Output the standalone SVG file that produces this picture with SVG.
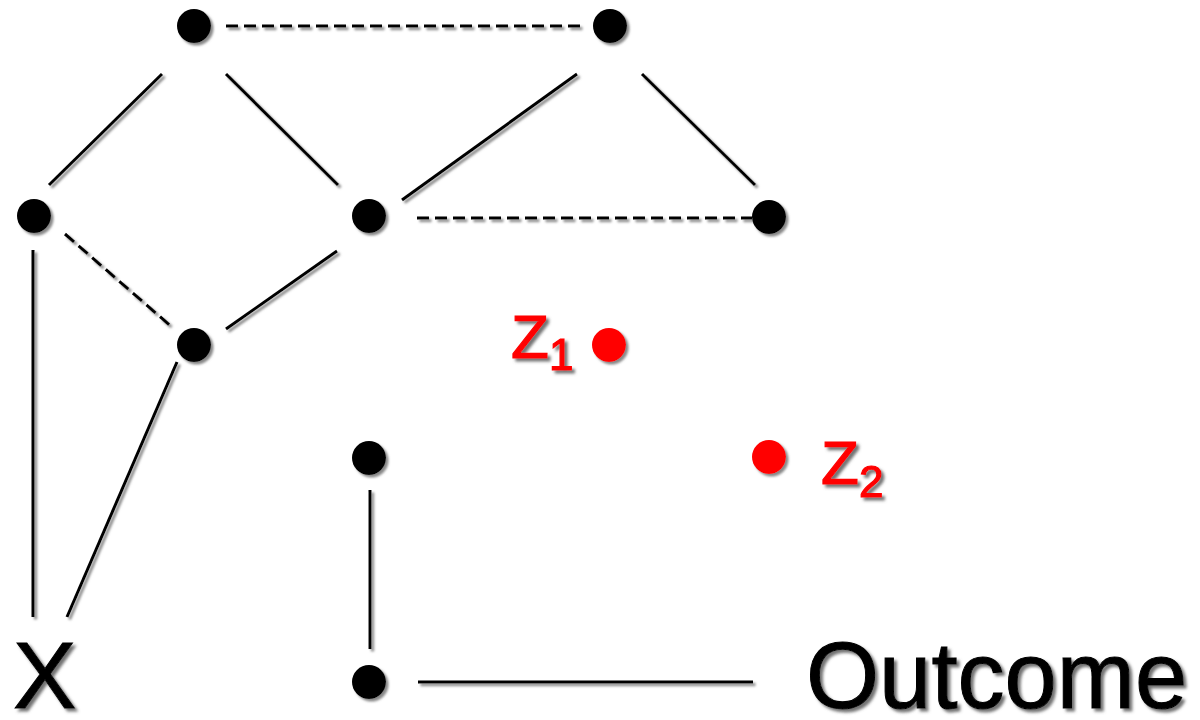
<svg xmlns="http://www.w3.org/2000/svg" width="1200" height="720" viewBox="0 0 1200 720">
  <defs>
    <!-- user-space region so straight horizontal/vertical lines keep their shadow -->
    <filter id="shadow" filterUnits="userSpaceOnUse" x="0" y="0" width="1200" height="720">
      <feDropShadow dx="2.5" dy="2.5" stdDeviation="1" flood-color="#7a7a7a" flood-opacity="0.9"/>
    </filter>
    <filter id="textShadow" filterUnits="userSpaceOnUse" x="0" y="0" width="1200" height="720">
      <feDropShadow dx="3" dy="3" stdDeviation="1.4" flood-color="#5a5a5a" flood-opacity="0.85"/>
    </filter>
  </defs>
  <style>
    .edge { stroke: #000; stroke-width: 3; fill: none; }
    .dash { stroke-dasharray: 12 6; }
    .node { fill: #000; }
    .red { fill: #ff0000; }
    .label { font-family: "Liberation Sans", Arial, sans-serif; fill: #000; stroke: #000; stroke-width: 1; }
    .zlabel { font-family: "Liberation Sans", Arial, sans-serif; fill: #ff0000; stroke: #ff0000; stroke-width: 1.2; }
  </style>
  <rect width="1200" height="720" fill="#fff"/>

  <g filter="url(#shadow)">
    <!-- connectors -->
    <g id="connectors">
      <line class="edge dash" x1="226" y1="26" x2="580" y2="26"/>
      <line class="edge" x1="162" y1="74" x2="49" y2="185"/>
      <line class="edge" x1="226" y1="74" x2="338" y2="185"/>
      <line class="edge" x1="577" y1="74" x2="402" y2="200"/>
      <line class="edge" x1="642" y1="74" x2="755" y2="185"/>
      <line class="edge dash" x1="417" y1="218" x2="752" y2="218"/>
      <line class="edge dash" x1="65" y1="234" x2="173" y2="328"/>
      <line class="edge" x1="337" y1="251" x2="226" y2="329"/>
      <line class="edge" x1="33" y1="250" x2="33" y2="617"/>
      <line class="edge" x1="177" y1="362" x2="67" y2="617"/>
      <line class="edge" x1="370" y1="490" x2="370" y2="649"/>
      <line class="edge" x1="418" y1="682" x2="753" y2="682"/>
    </g>

    <!-- nodes -->
    <g id="n-top-left"><circle class="node" cx="194" cy="26" r="17"/></g>
    <g id="n-top-right"><circle class="node" cx="610" cy="26" r="17"/></g>
    <g id="n-mid-left"><circle class="node" cx="34" cy="216" r="17"/></g>
    <g id="n-mid-center"><circle class="node" cx="369" cy="216" r="17"/></g>
    <g id="n-mid-right"><circle class="node" cx="769" cy="217" r="17"/></g>
    <g id="n-lower-left"><circle class="node" cx="194" cy="345" r="17"/></g>
    <g id="n-lower-center"><circle class="node" cx="369" cy="458" r="17"/></g>
    <g id="n-bottom"><circle class="node" cx="369" cy="682" r="17"/></g>
    <g id="z1-dot"><circle class="red" cx="609" cy="345" r="17"/></g>
    <g id="z2-dot"><circle class="red" cx="769" cy="457" r="17"/></g>
  </g>

  <!-- labels -->
  <g filter="url(#textShadow)">
    <g id="z1">
      <text class="zlabel" x="511" y="358" font-size="62">Z<tspan font-size="44" dy="12">1</tspan></text>
    </g>
    <g id="z2">
      <text class="zlabel" x="821" y="484" font-size="62">Z<tspan font-size="44" dy="13">2</tspan></text>
    </g>
    <g id="x">
      <text class="label" x="13" y="708" font-size="95">X</text>
    </g>
    <g id="outcome">
      <text class="label" x="806" y="708" font-size="94">Outcome</text>
    </g>
  </g>
</svg>
